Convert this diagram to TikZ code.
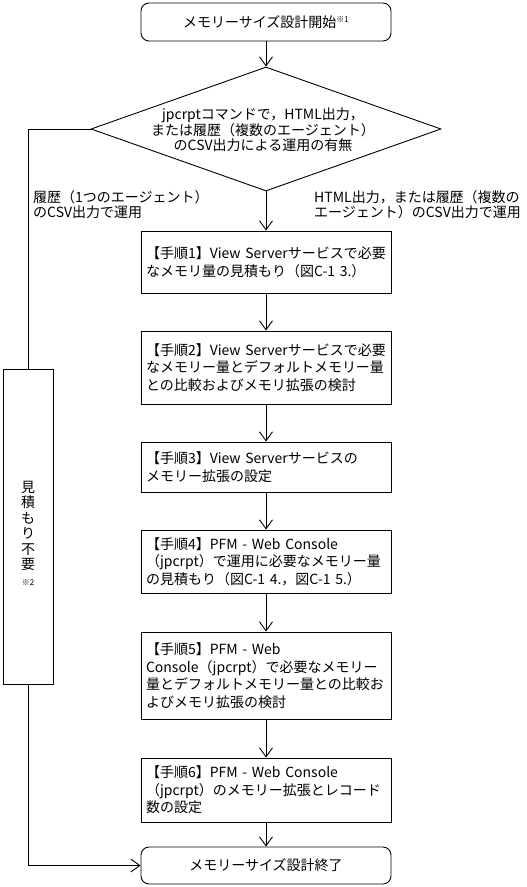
\documentclass[tikz,border=0pt]{standalone}
\usepackage{fontspec}
\setmainfont{Noto Sans CJK JP}
\usetikzlibrary{arrows.meta,shapes.geometric}
\begin{document}
\begin{tikzpicture}[x=1pt,y=-1pt,
  base/.style={line width=0.9pt},
  stepbox/.style={base, draw, rectangle, minimum width=250pt, text width=240pt,
    align=left, inner sep=5pt, font=\fontsize{14}{17.5}\selectfont},
  termbox/.style={base, draw, rectangle, rounded corners=8pt, minimum width=250pt,
    inner sep=2pt, font=\fontsize{14}{17}\selectfont},
  decbox/.style={base, draw, diamond, minimum width=350pt, minimum height=124pt,
    inner sep=0pt, shape aspect=2.82},
  plaintext/.style={inner sep=0pt, font=\fontsize{14}{15.5}\selectfont},
  flow/.style={base, -{Straight Barb[length=9pt,width=13pt,line width=0.9pt]}},
  link/.style={base}
]
\useasboundingbox (0,0) rectangle (527,887);

\node[termbox, minimum height=38pt] (start) at (266,22)
  {メモリーサイズ設計開始\raisebox{5pt}{\fontsize{8}{8}\selectfont ※1}};

\node[decbox] (dec) at (266,129) {};
\node[plaintext, align=center] (dectext) at (263,130)
  {jpcrptコマンドで，HTML出力，\\または履歴（複数のエージェント）\\のCSV出力による運用の有無};

\node[plaintext, align=left, anchor=west] (leftlabel) at (33,204.5)
  {履歴（1つのエージェント）\\のCSV出力で運用};
\node[plaintext, align=left, anchor=west] (rightlabel) at (314,204.5)
  {HTML出力，または履歴（複数の\\エージェント）のCSV出力で運用};

\node[stepbox, minimum height=62pt] (s1) at (266,262)
  {【手順1】View Serverサービスで必要\\なメモリ量の見積もり（図C-1 3.）};
\node[stepbox, minimum height=73pt] (s2) at (266,367.5)
  {【手順2】View Serverサービスで必要\\なメモリー量とデフォルトメモリー量\\との比較およびメモリ拡張の検討};
\node[stepbox, minimum height=50pt] (s3) at (266,467)
  {【手順3】View Serverサービスの\\メモリー拡張の設定};
\node[stepbox, minimum height=63pt] (s4) at (266,561.5)
  {【手順4】PFM - Web Console\\（jpcrpt）で運用に必要なメモリー量\\の見積もり（図C-1 4.，図C-1 5.）};
\node[stepbox, minimum height=87pt] (s5) at (266,675.5)
  {【手順5】PFM - Web\\Console（jpcrpt）で必要なメモリー\\量とデフォルトメモリー量との比較お\\よびメモリ拡張の検討};
\node[stepbox, minimum height=64pt] (s6) at (266,790)
  {【手順6】PFM - Web Console\\（jpcrpt）のメモリー拡張とレコード\\数の設定};

\node[termbox, minimum height=37pt] (end) at (266,865.5) {メモリーサイズ設計終了};

\node[base, draw, rectangle, minimum width=50pt, minimum height=315pt, inner sep=0pt] (skip) at (28,526.5) {};
\node[plaintext, align=center] (skiptext) at (28,533)
  {見\\積\\も\\り\\不\\要\\{\fontsize{8}{8}\selectfont ※2}};

\draw[flow] (start) -- (dec);
\draw[flow] (dec.south) -- (s1);
\draw[flow] (s1) -- (s2);
\draw[flow] (s2) -- (s3);
\draw[flow] (s3) -- (s4);
\draw[flow] (s4) -- (s5);
\draw[flow] (s5) -- (s6);
\draw[flow] (s6) -- (end);
\draw[link] (dec.west) -| (skip.north);
\draw[flow] (skip.south) |- (end.west);
\end{tikzpicture}
\end{document}
